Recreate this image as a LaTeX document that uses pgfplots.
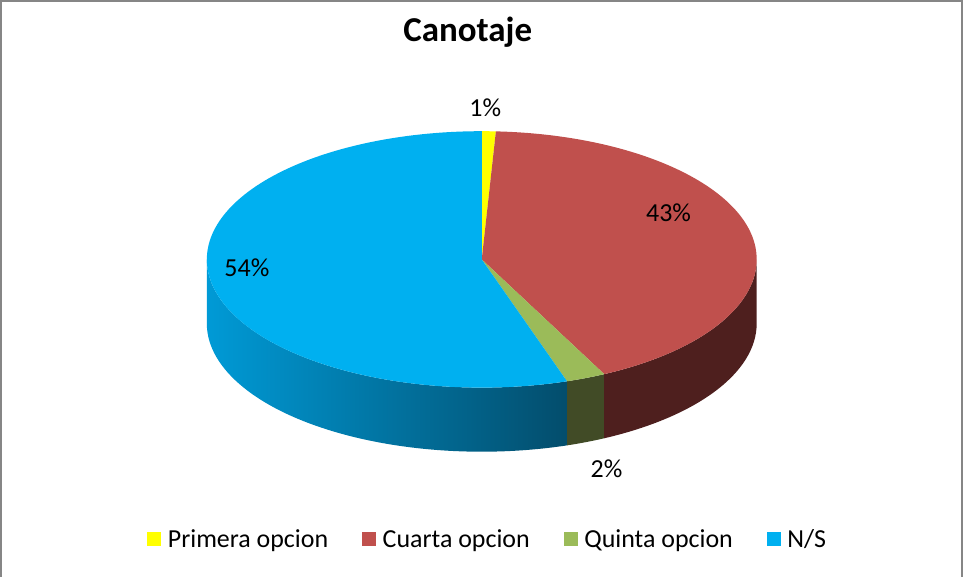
\documentclass[border=0pt]{standalone}
\usepackage{pgfplots}
\pgfplotsset{compat=1.18}
\usepackage{pgfplotstable}
\usepackage{fontspec}
\setmainfont{Carlito}

% slice colours (top faces) and darker side colours
\definecolor{cPrim}{HTML}{FFFF00}
\definecolor{cCuar}{HTML}{C0504D}
\definecolor{cQuin}{HTML}{9BBB59}
\definecolor{cNS}{HTML}{00B0F0}
\definecolor{sCuar}{HTML}{4E1F1E}
\definecolor{sQuin}{HTML}{414B26}
\definecolor{sNSl}{HTML}{009AD6}
\definecolor{sNSd}{HTML}{034D6C}
\definecolor{frame}{HTML}{868686}

\pgfplotstableread{
opcion value
Primera 1
Cuarta 43
Quinta 2
NS 54
}\piedata

% rough perspective: back of the pie squeezed, front widened
\pgfmathdeclarefunction{persp}{1}{\pgfmathparse{atan2(sin(#1),cos(#1)/(1+0.22*sin(#1)))}}

\begin{document}
\begin{tikzpicture}
\pgfplotstablegetelem{0}{value}\of\piedata \let\vA\pgfplotsretval
\pgfplotstablegetelem{1}{value}\of\piedata \let\vB\pgfplotsretval
\pgfplotstablegetelem{2}{value}\of\piedata \let\vC\pgfplotsretval
\pgfmathsetmacro\aA{persp(90-3.6*\vA)}
\pgfmathsetmacro\aB{persp(90-3.6*(\vA+\vB))}
\pgfmathsetmacro\aC{persp(90-3.6*(\vA+\vB+\vC))}
\tikzset{rad/.style={x radius=274.5bp, y radius=128bp}}
\begin{axis}[
  width=963bp, height=577bp, scale only axis,
  xmin=0, xmax=963, ymin=0, ymax=577,
  hide axis, clip=false,
  title={Canotaje},
  title style={at={(axis cs:468.5,529)}, anchor=base, font=\bfseries\fontsize{35}{40}\selectfont},
  legend columns=4,
  legend style={draw=none, fill=none, at={(axis cs:488.5,38)}, anchor=center,
    font=\fontsize{26}{30}\selectfont,
    /tikz/every odd column/.append style={column sep=5bp},
    /tikz/every even column/.append style={column sep=32bp}},
]
\addlegendimage{legend image code/.code={\fill[cPrim] (0bp,-6.5bp) rectangle (13bp,6.5bp);}}
\addlegendentry{Primera opcion}
\addlegendimage{legend image code/.code={\fill[cCuar] (0bp,-6.5bp) rectangle (13bp,6.5bp);}}
\addlegendentry{Cuarta opcion}
\addlegendimage{legend image code/.code={\fill[cQuin] (0bp,-6.5bp) rectangle (13bp,6.5bp);}}
\addlegendentry{Quinta opcion}
\addlegendimage{legend image code/.code={\fill[cNS] (0bp,-6.5bp) rectangle (13bp,6.5bp);}}
\addlegendentry{N/S}

% frame
\draw[frame, line width=2bp] (axis cs:2.5,0) -- (axis cs:2.5,575) -- (axis cs:962,575) -- (axis cs:962,0);

% sides
\shade[left color=sNSl, right color=sNSd] (axis cs:482.5,317) ++(\aC:274.5bp and 128bp)
  arc[start angle=\aC, end angle=-180, rad] -- ++(0,-64bp)
  arc[start angle=-180, end angle=\aC, rad] -- cycle;
\fill[sQuin] (axis cs:482.5,317) ++(\aB:274.5bp and 128bp)
  arc[start angle=\aB, end angle=\aC, rad] -- ++(0,-64bp)
  arc[start angle=\aC, end angle=\aB, rad] -- cycle;
\fill[sCuar] (axis cs:482.5,317) ++(0:274.5bp and 128bp)
  arc[start angle=0, end angle=\aB, rad] -- ++(0,-64bp)
  arc[start angle=\aB, end angle=0, rad] -- cycle;

% top faces
\fill[cPrim] (axis cs:482.5,317) -- ++(90:274.5bp and 128bp)
  arc[start angle=90, end angle=\aA, rad] -- cycle;
\fill[cCuar] (axis cs:482.5,317) -- ++(\aA:274.5bp and 128bp)
  arc[start angle=\aA, end angle=\aB, rad] -- cycle;
\fill[cQuin] (axis cs:482.5,317) -- ++(\aB:274.5bp and 128bp)
  arc[start angle=\aB, end angle=\aC, rad] -- cycle;
\fill[cNS] (axis cs:482.5,317) -- ++(\aC:274.5bp and 128bp)
  arc[start angle=\aC, end angle=-270, rad] -- cycle;

% data labels
\node[anchor=base, font=\fontsize{26}{30}\selectfont] at (axis cs:486,460) {1\%};
\node[anchor=base, font=\fontsize{26}{30}\selectfont] at (axis cs:669,355) {43\%};
\node[anchor=base, font=\fontsize{26}{30}\selectfont] at (axis cs:248,300) {54\%};
\node[anchor=base, font=\fontsize{26}{30}\selectfont] at (axis cs:607,99) {2\%};
\end{axis}
\end{tikzpicture}
\end{document}
